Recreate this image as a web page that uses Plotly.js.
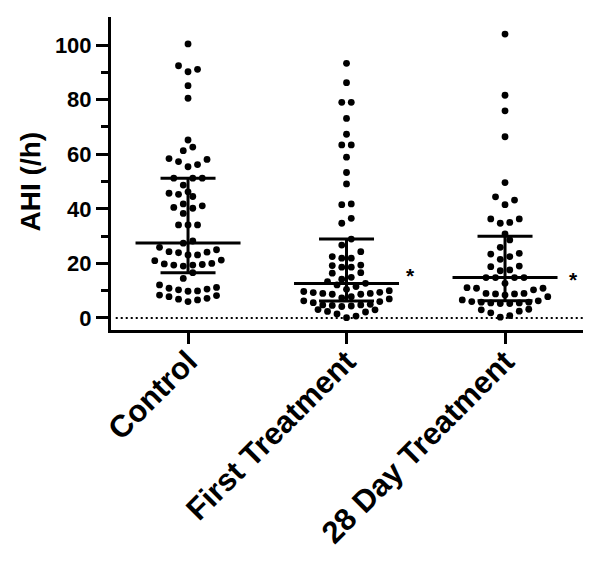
<!DOCTYPE html>
<html><head><meta charset="utf-8">
<script src="https://cdn.plot.ly/plotly-3.0.1.min.js"></script>
<style>html,body{margin:0;padding:0;background:#fff}</style>
</head><body><div id="chart" style="width:601px;height:566px"></div>
<script>
// ---------- data ----------
const categories = ["Control", "First Treatment", "28 Day Treatment"];
const controlAHI = [100.4, 92.4, 91.1, 90.2, 85.1, 80.5, 65.2, 62.6, 61.3, 58.4, 58.1, 57.3, 56.2, 55.4,
  51.2, 51.2, 51.2, 48.7, 46.2, 45.7, 45.3, 44.5, 41.8, 41.1, 40.5, 40.2, 38.3, 34.1, 34.1, 34.1,
  28.2, 27.4, 25.9, 25.0, 24.3, 24.1, 23.9, 23.1, 23.1, 21.2, 21.0, 20.0, 19.8, 19.6, 19.4, 19.4, 19.0,
  16.6, 14.5, 12.1, 11.2, 10.9, 10.6, 10.3, 9.9, 9.8, 8.4, 8.2, 7.8, 7.2, 6.9, 6.6, 6.0];
const firstAHI = [93.3, 86.2, 79.0, 79.0, 73.1, 67.3, 63.4, 63.4, 58.9, 53.3, 49.1, 41.8, 41.5, 36.5, 34.7,
  28.9, 26.7, 24.3, 22.5, 21.9, 21.9, 19.4, 19.2, 18.6, 18.6, 16.6, 16.4, 14.9, 14.2,
  13.3, 12.7, 12.1, 11.5, 10.5,
  10.0, 9.7, 9.4, 9.3, 9.0, 9.0, 8.7, 8.7, 7.8, 7.4,
  7.0, 6.3, 6.0, 5.6, 5.0, 4.8, 4.8, 4.6, 4.4, 4.2,
  3.1, 3.0, 2.4, 2.2, 1.5, 0.7, 0.1];
const day28AHI = [104.0, 81.6, 75.9, 66.4, 49.6, 44.4, 43.2, 41.5, 36.3, 36.3, 35.0, 34.7, 30.8, 28.6, 25.9,
  23.7, 23.4, 22.5, 21.5, 19.0, 18.8, 17.6, 17.3, 14.8, 14.8, 14.8, 14.8, 12.7,
  11.1, 10.9, 10.9, 10.3, 9.0, 9.0, 8.8, 8.8, 8.4,
  7.8, 6.6, 6.3, 6.0, 5.8, 5.8, 5.5, 5.5, 5.3, 5.3,
  3.2, 3.0, 2.5, 1.9, 0.9, 0.3];
const groupValues = [controlAHI, firstAHI, day28AHI];
const medians = [27.5, 12.6, 14.8];
const q1 = [16.6, 6.2, 6.3];
const q3 = [51.2, 28.9, 29.9];
const yTickVals = [0, 20, 40, 60, 80, 100];
const yMinorTickVals = [10, 30, 50, 70, 90];
const significance = ["", "*", "*"];

// ---------- geometry ----------
const W = 601, H = 566;
const M = {l: 111, r: 18, t: 17, b: 236};
const xRange = [-0.486, 2.492];
const yRange = [-4.4, 110.26];
const pxPerX = (W - M.l - M.r) / (xRange[1] - xRange[0]);
const pxPerY = (H - M.t - M.b) / (yRange[1] - yRange[0]);
const GAP_PX = 9.5, MIN_DIST = 6.6, ROW_SPAN = 3.05;

function swarmOffsets(vals) {
  const idx = vals.map((v, i) => i).sort((a, b) => vals[a] - vals[b]);
  const rows = []; let cur = [];
  for (const i of idx) {
    if (cur.length && vals[i] - vals[cur[0]] > ROW_SPAN) { rows.push(cur); cur = []; }
    cur.push(i);
  }
  if (cur.length) rows.push(cur);
  const off = new Array(vals.length).fill(0);
  const placed = [];
  for (const row of rows) {
    const n = row.length;
    const base = row.map((_, k) => {
      if (n % 2) { if (k === 0) return 0; const m = Math.ceil(k / 2); return (k % 2 ? 1 : -1) * m; }
      const m = Math.floor(k / 2) + 0.5; return (k % 2 ? 1 : -1) * m;
    });
    const shifts = [0, 0.5, -0.5, 1, -1, 1.5, -1.5, 2, -2];
    let chosen = null;
    outer: for (const s of shifts) for (const mir of [1, -1]) {
      const xs = base.map(b => (b * mir + s) * GAP_PX);
      const ok = row.every((i, k) => placed.every(p =>
        Math.hypot(p.x - xs[k], p.y - vals[i] * pxPerY) >= MIN_DIST));
      if (ok) { chosen = xs; break outer; }
    }
    if (!chosen) chosen = base.map(b => b * GAP_PX);
    row.forEach((i, k) => { off[i] = chosen[k] / pxPerX; placed.push({x: chosen[k], y: vals[i] * pxPerY}); });
  }
  return off;
}

const traces = [];
groupValues.forEach((vals, g) => {
  const off = swarmOffsets(vals);
  traces.push({
    type: 'scatter', mode: 'markers', x: off.map(o => g + o), y: vals,
    marker: {color: '#000', size: 6.8}, hoverinfo: 'y', showlegend: false
  });
});
// median + IQR bars
const MED_HALF = 52.5 / pxPerX, CAP_HALF = 27.5 / pxPerX;
const bx = [], by = [];
categories.forEach((c, g) => {
  bx.push(g - MED_HALF, g + MED_HALF, null, g - CAP_HALF, g + CAP_HALF, null,
          g - CAP_HALF, g + CAP_HALF, null, g, g, null);
  by.push(medians[g], medians[g], null, q1[g], q1[g], null,
          q3[g], q3[g], null, q1[g], q3[g], null);
});
traces.push({type: 'scatter', mode: 'lines', x: bx, y: by,
  line: {color: '#000', width: 3}, hoverinfo: 'skip', showlegend: false});

const FONT = 'Liberation Sans, Arial, Helvetica, sans-serif';
const annotations = [];
significance.forEach((s, g) => {
  if (!s) return;
  annotations.push({
    x: g + (g === 1 ? 0.405 : 0.435), y: medians[g] + (g === 1 ? 3.0 : -0.8), xref: 'x', yref: 'y',
    text: s, showarrow: false, xanchor: 'center', yanchor: 'middle',
    font: {family: FONT, size: 21, weight: 700, color: '#000'}
  });
});
// y-axis title as its own annotation so its size is controlled exactly
annotations.push({
  xref: 'paper', yref: 'paper', x: -0.17, y: 0.474, xanchor: 'center', yanchor: 'middle',
  text: 'AHI (/h)', textangle: -90, showarrow: false,
  font: {family: FONT, size: 28, weight: 700, color: '#000'}
});

const layout = {
  width: W, height: H, margin: M,
  paper_bgcolor: '#fff', plot_bgcolor: '#fff',
  showlegend: false,
  font: {family: FONT, color: '#000'},
  xaxis: {
    range: xRange, tickmode: 'array', tickvals: [0, 1, 2], ticktext: categories,
    tickangle: -45, ticks: 'outside', ticklen: 11, tickwidth: 3, tickcolor: '#000',
    ticklabelstandoff: -13,
    showline: true, linewidth: 3, linecolor: '#000', showgrid: false, zeroline: false,
    tickfont: {family: FONT, size: 31, weight: 700, color: '#000'}, fixedrange: true
  },
  yaxis: {
    range: yRange, tickmode: 'array', tickvals: yTickVals,
    ticks: 'outside', ticklen: 12, tickwidth: 3, tickcolor: '#000',
    minor: {tickmode: 'array', tickvals: yMinorTickVals, ticks: 'outside', ticklen: 7, tickwidth: 3, tickcolor: '#000', showgrid: false},
    showline: true, linewidth: 3, linecolor: '#000', showgrid: false, zeroline: false,
    tickfont: {family: FONT, size: 22, weight: 700, color: '#000'},
    fixedrange: true
  },
  shapes: [{type: 'line', xref: 'paper', x0: 0.01, x1: 1, yref: 'y', y0: 0, y1: 0,
    line: {color: '#000', width: 2.2, dash: '2px,3px'}}],
  annotations: annotations
};
Plotly.newPlot('chart', traces, layout, {displayModeBar: false, staticPlot: true});
</script>
</body></html>
